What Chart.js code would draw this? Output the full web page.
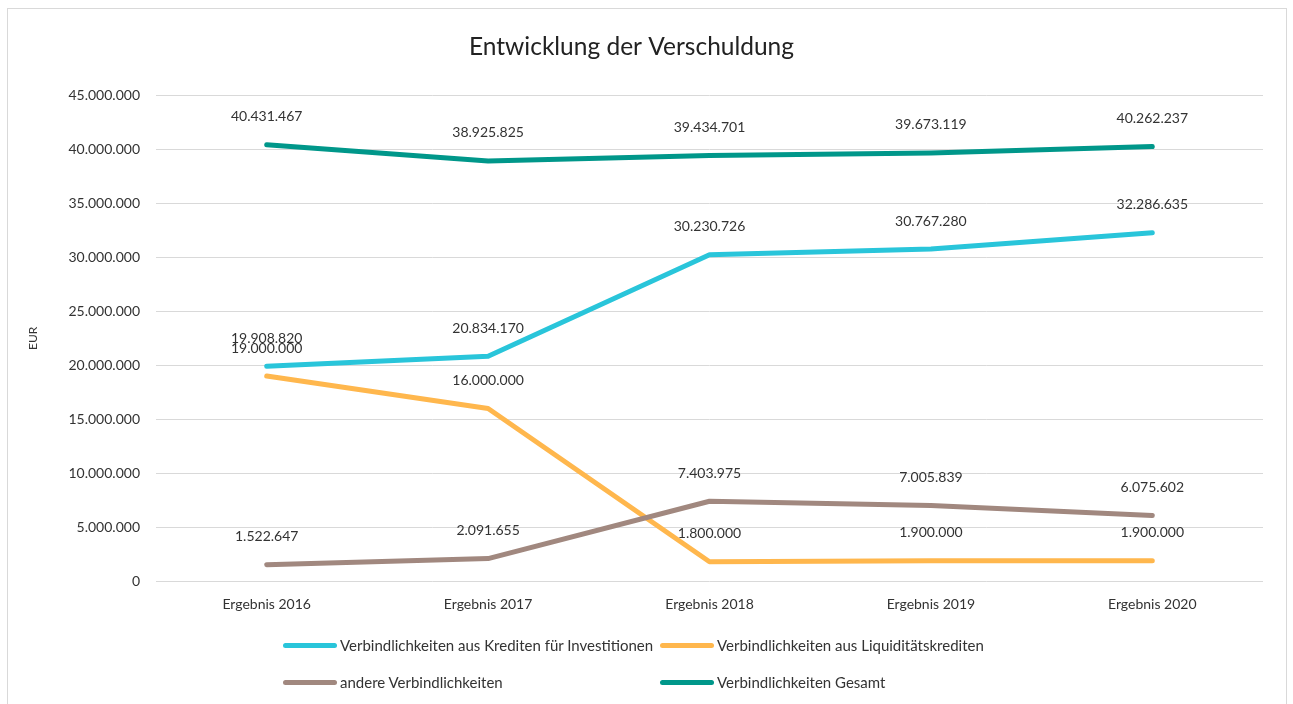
<!DOCTYPE html>
<html>
<head>
<meta charset="utf-8">
<script src="https://cdn.jsdelivr.net/npm/chart.js@4/dist/chart.umd.min.js"></script>
<style>
    body { margin: 0; background: #fff; overflow: hidden; font-family: Lato, sans-serif; }
    #frame { position: absolute; left: 7px; top: 8px; width: 1280px; height: 720px; border: 1px solid #d9d9d9; box-sizing: border-box; }
    #chart { position: absolute; left: 0; top: 0; }
    .leg { position: absolute; display: flex; align-items: center; font-size: 15px; color: #333; white-space: nowrap; }
    .leg span.sw { display: inline-block; width: 54px; height: 5px; border-radius: 3px; margin-right: 3px; }
</style>
</head>
<body>
<div id="frame"></div>
<canvas id="chart" width="1293" height="704"></canvas>
<div id="legend"></div>
<script>
const categories = ["Ergebnis 2016", "Ergebnis 2017", "Ergebnis 2018", "Ergebnis 2019", "Ergebnis 2020"];
const seriesNames = [
    "Verbindlichkeiten aus Krediten für Investitionen",
    "Verbindlichkeiten aus Liquiditätskrediten",
    "andere Verbindlichkeiten",
    "Verbindlichkeiten Gesamt"
];
const kredite = [19908820, 20834170, 30230726, 30767280, 32286635];
const liquiditaet = [19000000, 16000000, 1800000, 1900000, 1900000];
const andere = [1522647, 2091655, 7403975, 7005839, 6075602];
const gesamt = [40431467, 38925825, 39434701, 39673119, 40262237];
const yMax = 45000000;
const yStep = 5000000;

const colors = ["#29c5da", "#ffb74d", "#a1887f", "#00978a"];
const seriesData = [kredite, liquiditaet, andere, gesamt];

function fmt(v) {
    return String(Math.round(v)).replace(/\B(?=(\d{3})+(?!\d))/g, ".");
}

const textColor = "#333";
const fontFamily = "Lato, 'Open Sans', sans-serif";

// value labels above each point, like the Excel chart
const pointLabels = {
    id: "pointLabels",
    afterDatasetsDraw(chart) {
        const ctx = chart.ctx;
        ctx.save();
        ctx.font = "14px " + fontFamily;
        ctx.fillStyle = textColor;
        ctx.textAlign = "center";
        ctx.textBaseline = "middle";
        chart.data.datasets.forEach((ds, i) => {
            const meta = chart.getDatasetMeta(i);
            meta.data.forEach((pt, j) => {
                ctx.fillText(fmt(ds.data[j]), pt.x, pt.y - 28);
            });
        });
        ctx.restore();
    }
};

const datasets = seriesNames.map((name, i) => ({
    label: name,
    data: seriesData[i],
    borderColor: colors[i],
    backgroundColor: colors[i],
    borderWidth: 5,
    borderCapStyle: "round",
    borderJoinStyle: "round",
    pointRadius: 0,
    tension: 0,
    order: seriesNames.length - 1 - i
}));

new Chart(document.getElementById("chart"), {
    type: "line",
    data: { labels: categories, datasets: datasets },
    options: {
        responsive: false,
        animation: false,
        layout: { padding: { left: 0, right: 30, top: 0, bottom: 84 } },
        plugins: {
            legend: { display: false },
            tooltip: { enabled: false },
            title: {
                display: true,
                text: "Entwicklung der Verschuldung",
                color: "#222",
                font: { family: fontFamily, size: 24.5, weight: "normal" },
                padding: { top: 32, bottom: 34 }
            }
        },
        scales: {
            x: {
                offset: true,
                grid: { display: false, offset: true },
                border: { display: false },
                ticks: { color: textColor, font: { family: fontFamily, size: 14 }, padding: 7 }
            },
            y: {
                min: 0,
                max: yMax,
                afterFit(scale) { scale.width = 156; },
                grid: { color: "#d9d9d9", lineWidth: 1, drawTicks: false },
                border: { display: false },
                ticks: {
                    stepSize: yStep,
                    color: textColor,
                    padding: 16,
                    font: { family: fontFamily, size: 14 },
                    callback: v => fmt(v)
                },
                title: {
                    display: true,
                    text: "EUR",
                    color: textColor,
                    font: { family: fontFamily, size: 12 },
                    padding: { top: 26, bottom: 0 }
                }
            }
        }
    },
    plugins: [pointLabels]
});

// legend in two columns, like the reference
const legend = document.getElementById("legend");
const colX = [283, 660];
const rowY = [645, 682];
seriesNames.forEach((name, i) => {
    const item = document.createElement("div");
    item.className = "leg";
    item.style.left = colX[i % 2] + "px";
    item.style.top = (rowY[Math.floor(i / 2)] - 10) + "px";
    item.style.height = "20px";
    item.innerHTML = '<span class="sw" style="background:' + colors[i] + '"></span>' + name;
    legend.appendChild(item);
});
</script>
</body>
</html>
